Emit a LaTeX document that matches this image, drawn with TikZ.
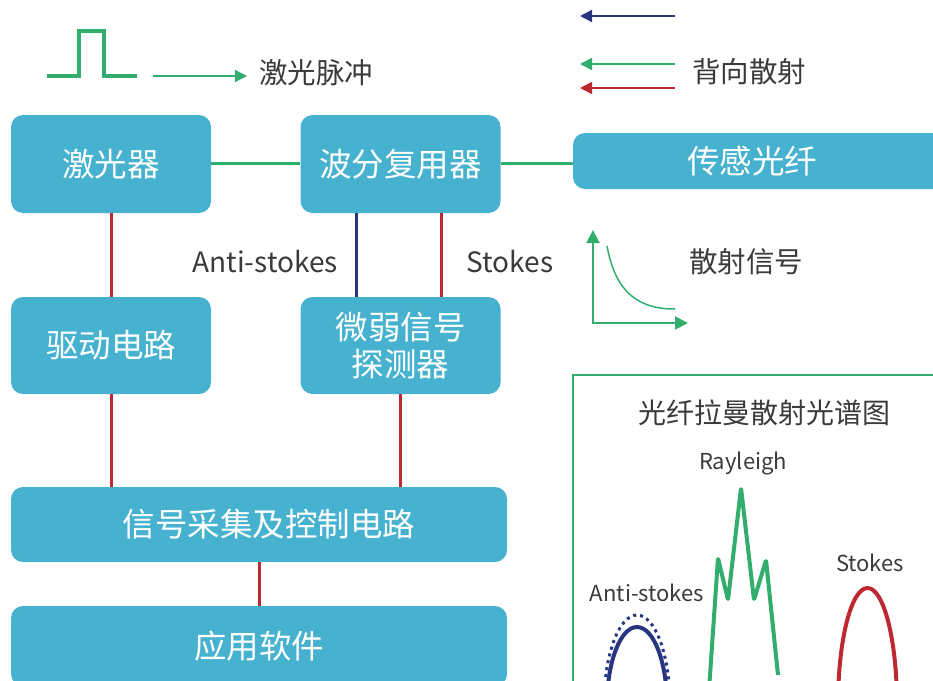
\documentclass[tikz,border=0pt]{standalone}
\usepackage{fontspec}
\setmainfont{Noto Sans CJK SC}
\usetikzlibrary{arrows.meta,calc}
\definecolor{boxc}{HTML}{46B2CF}
\definecolor{gc}{HTML}{33AD6E}
\definecolor{rc}{HTML}{BE2830}
\definecolor{bc}{HTML}{27367F}
\definecolor{txt}{HTML}{3A3A3A}
\begin{document}
\begin{tikzpicture}[x=1pt,y=-1pt,
  box/.style={fill=boxc, rounded corners=12pt, text=white, font=\fontsize{32.5}{37}\selectfont, align=center, inner sep=0pt},
  lbl/.style={text=txt, font=\fontsize{28.5}{32}\selectfont, inner sep=0pt},
  slbl/.style={text=txt, font=\fontsize{22}{26}\selectfont, inner sep=0pt},
  gline/.style={draw=gc, line width=3pt},
  rline/.style={draw=rc, line width=3pt},
  bline/.style={draw=bc, line width=3pt},
  tip/.style={-{Triangle[length=12pt,width=12pt]}},
  axtip/.style={{Triangle[length=13pt,width=13pt]}-{Triangle[length=13pt,width=13pt]}}
]
\useasboundingbox (0,0) rectangle (933,680);
\clip (0,0) rectangle (933,680);

% boxes
\node[box, minimum width=200pt, minimum height=98pt] (laser) at (111,164) {激光器};
\node[box, minimum width=200pt, minimum height=98pt] (wdm) at (400.5,164) {波分复用器};
\node[box, minimum width=380pt, minimum height=56pt] (fiber) at (763,161) {传感光纤\hspace*{22pt}};
\node[box, minimum width=200pt, minimum height=97pt] (drive) at (111,345.5) {驱动电路};
\node[box, minimum width=200pt, minimum height=97pt] (det) at (400.5,345.5) {微弱信号\\探测器};
\node[box, minimum width=496pt, minimum height=75pt] (daq) at (259,524.5) {\hspace*{20pt}信号采集及控制电路};
\node[box, minimum width=496pt, minimum height=80pt] (app) at (259,646) {应用软件};

% connectors
\draw[gline] ([yshift=1pt]laser.east) -- ([yshift=1pt]wdm.west);
\draw[gline] ([yshift=1pt]wdm.east) -- ([yshift=1pt]wdm.east -| fiber.west);
\draw[rline] (laser.south) -- (drive.north);
\draw[bline] ([xshift=-44.5pt]wdm.south) -- ([xshift=-44.5pt]det.north);
\draw[rline] ([xshift=40.5pt]wdm.south) -- ([xshift=40.5pt]det.north);
\draw[rline] (drive.south) -- (drive.south |- daq.north);
\draw[rline] (det.south) -- (det.south |- daq.north);
\draw[rline] (app.north) -- (daq.south);

\node[lbl, font=\fontsize{28}{32}\selectfont] (las) at (265,262) {Anti-stokes};
\node[lbl, font=\fontsize{28}{32}\selectfont] (ls) at (510,262) {Stokes};

% legend: pulse
\draw[draw=gc, line width=3.5pt, line join=miter] (47,76) -- (79,76) -- (79,31) -- (104,31) -- (104,76) -- (137,76);
\coordinate (pa) at (153,76);
\coordinate (pb) at (247,76);
\draw[draw=gc, line width=1.5pt, tip] (pa) -- (pb);
\node[lbl] (pulse) at (316,73) {激光脉冲};

% legend: back scattering
\coordinate (b1) at (675,16); \coordinate (b1t) at (580,16);
\coordinate (g1) at (675,64); \coordinate (g1t) at (580,64);
\coordinate (r1) at (675,88); \coordinate (r1t) at (580,88);
\draw[draw=bc, line width=1.5pt, tip] (b1) -- (b1t);
\draw[draw=gc, line width=1.5pt, tip] (g1) -- (g1t);
\draw[draw=rc, line width=1.5pt, tip] (r1) -- (r1t);
\node[lbl] (back) at (749,72) {背向散射};

% scatter signal axes
\coordinate (ay) at (593,230); \coordinate (ao) at (593,323); \coordinate (ax) at (688,323);
\draw[draw=gc, line width=2pt, axtip] (ay) -- (ao) -- (ax);
\draw[draw=gc, line width=1.5pt] (607,246) .. controls (616,296) and (642,309) .. (675,309);
\node[lbl] (sig) at (746,262) {散射信号};

% spectrum panel
\draw[draw=gc, line width=2.5pt] (573,700) -- (573,375) -- (950,375);
\node[lbl, font=\fontsize{28}{32}\selectfont] (title) at (764,413) {光纤拉曼散射光谱图};
\node[slbl] (ray) at (743,463) {Rayleigh};
\node[slbl] (as) at (647,593) {Anti-stokes};
\node[slbl] (st) at (870,563) {Stokes};

\draw[draw=gc, line width=4pt, line join=round, rounded corners=2pt]
  (709,690) -- (718,558) -- (728,600) -- (741,488) -- (754,600) -- (766,560) -- (778,675);
\draw[draw=bc, line width=4pt] (607,705) arc[start angle=180, end angle=0, x radius=30pt, y radius=78pt];
\draw[draw=bc, line width=3pt, dash pattern=on 3pt off 4pt] (604,705) arc[start angle=180, end angle=0, x radius=33pt, y radius=90pt];
\draw[draw=rc, line width=4pt] (838,705) arc[start angle=180, end angle=0, x radius=29.5pt, y radius=117pt];
\end{tikzpicture}
\end{document}
